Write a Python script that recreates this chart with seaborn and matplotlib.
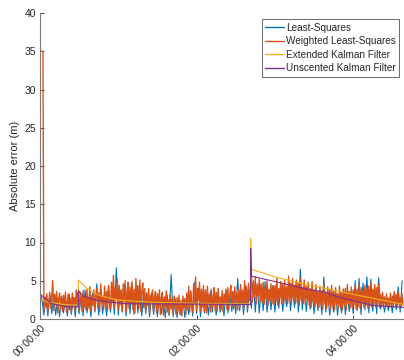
import numpy as np
import pandas as pd
import matplotlib
matplotlib.use("Agg")
import matplotlib.pyplot as plt
import seaborn as sns

# ---------------- data ----------------
ls_dt_hours = 0.025
ls_err = [
    3.5, 2.5, 0.5, 2.9, 0.4, 3.1, 0.7, 3.3, 0.5, 2.7,
    0.3, 3.0, 0.8, 2.5, 0.4, 3.2, 0.6, 2.8, 0.3, 3.5,
    0.7, 3.0, 0.4, 3.8, 0.8, 2.7, 0.3, 3.4, 0.9, 4.6,
    0.5, 4.0, 0.7, 3.3, 0.4, 4.3, 0.9, 3.8, 0.6, 6.7,
    0.5, 3.7, 0.9, 4.5, 0.4, 3.5, 0.7, 4.6, 0.6, 4.0,
    0.8, 4.3, 0.4, 3.6, 0.7, 3.1, 0.3, 3.4, 0.6, 2.8,
    0.3, 3.2, 0.7, 2.6, 0.2, 3.1, 0.5, 5.8, 0.3, 2.7,
    0.2, 2.4, 0.5, 2.6, 0.2, 2.3, 0.6, 3.7, 0.4, 4.8,
    0.7, 4.0, 0.3, 3.4, 0.8, 3.1, 0.5, 3.6, 0.9, 2.9,
    0.5, 3.3, 0.9, 2.8, 0.4, 3.8, 0.8, 3.1, 1.0, 3.5,
    0.7, 5.3, 1.1, 3.4, 0.6, 4.4, 0.9, 3.7, 1.4, 5.0,
    0.9, 4.6, 0.8, 4.2, 1.1, 4.9, 0.9, 3.8, 1.2, 4.4,
    0.9, 4.0, 1.4, 4.7, 1.0, 3.6, 1.6, 5.0, 1.1, 4.2,
    1.5, 5.1, 0.9, 6.5, 1.2, 4.8, 1.0, 3.7, 1.3, 4.3,
    0.7, 3.8, 1.1, 3.2, 0.6, 5.5, 0.9, 3.4, 0.5, 3.0,
    0.9, 3.6, 0.5, 3.1, 0.8, 3.9, 0.6, 3.3, 1.0, 3.5,
    0.7, 5.0, 1.1, 5.3, 0.6, 4.7, 1.2, 5.5, 0.8, 5.2,
    1.0, 4.0, 0.7, 5.4, 1.3, 2.6, 0.9, 2.3, 1.1, 2.7,
    0.8, 3.4, 1.2, 4.2, 0.9, 5.0,
]
wls_dt_hours = 0.0125
wls_err = [
    35, 35, 35, 35, 1.2, 2.8, 1.6, 3.3, 0.9, 2.4, 3.5, 1.4,
    2.9, 5.0, 1.1, 3.2, 2.0, 3.6, 0.8, 2.6, 3.4, 1.3, 2.9, 1.0,
    3.1, 1.6, 3.5, 0.9, 2.3, 3.3, 1.2, 2.7, 0.8, 3.4, 1.9, 2.8,
    1.0, 3.8, 1.7, 2.9, 1.1, 3.5, 2.2, 1.0, 3.7, 1.5, 3.0, 1.2,
    3.9, 1.4, 2.6, 4.2, 1.0, 3.1, 1.8, 3.8, 1.1, 2.7, 4.0, 1.5,
    3.4, 1.0, 4.6, 2.1, 3.0, 1.2, 4.3, 1.6, 3.6, 1.1, 4.4, 2.0,
    1.3, 4.8, 2.2, 5.7, 1.5, 4.1, 2.6, 5.2, 1.2, 4.4, 1.9, 3.8,
    1.0, 4.6, 2.3, 5.0, 0.9, 3.7, 4.8, 1.4, 4.2, 2.0, 4.9, 1.2,
    3.9, 0.8, 5.3, 2.1, 4.4, 1.3, 5.1, 1.0, 3.6, 4.7, 1.5, 4.0,
    0.9, 3.4, 1.8, 4.0, 0.7, 3.1, 2.2, 3.8, 1.0, 2.9, 3.6, 0.8,
    3.3, 1.4, 3.8, 0.6, 2.7, 3.5, 0.5, 2.9, 1.6, 3.7, 0.9, 2.5,
    0.5, 3.2, 1.3, 2.6, 0.7, 3.0, 1.9, 0.6, 2.8, 1.1, 3.1, 0.6,
    2.4, 0.4, 3.0, 1.5, 2.7, 0.6, 3.4, 1.2, 4.3, 0.9, 3.6, 1.7,
    0.8, 4.6, 2.0, 5.5, 1.1, 4.0, 2.5, 4.8, 0.9, 3.9, 1.6, 4.4,
    1.0, 3.8, 0.8, 4.3, 2.0, 3.2, 0.9, 3.9, 1.5, 2.9, 4.1, 1.1,
    3.5, 1.0, 4.0, 1.9, 2.9, 1.2, 3.7, 1.0, 3.3, 2.2, 3.9, 1.3,
    4.1, 1.2, 3.3, 4.4, 1.6, 3.6, 1.3, 4.2, 2.3, 3.4, 1.2, 3.9,
    1.5, 4.5, 2.1, 3.8, 1.3, 5.0, 1.9, 4.2, 1.4, 4.7, 2.4, 3.9,
    5.7, 2.2, 4.8, 2.9, 5.5, 2.0, 4.4, 3.0, 5.2, 2.3, 4.6, 2.1,
    4.8, 1.9, 4.2, 2.6, 5.0, 1.8, 3.9, 2.4, 4.6, 2.0, 4.3, 1.9,
    4.4, 2.2, 5.3, 1.8, 4.0, 2.7, 4.9, 2.0, 4.5, 1.9, 5.1, 2.4,
    4.2, 2.0, 5.6, 2.3, 4.7, 2.1, 5.3, 2.6, 4.4, 2.0, 5.0, 2.2,
    4.6, 1.8, 5.4, 2.4, 4.1, 2.0, 5.1, 1.9, 4.3, 2.5, 4.8, 1.8,
    4.0, 1.5, 4.9, 2.2, 3.8, 1.6, 4.5, 2.0, 3.6, 1.5, 4.3, 1.9,
    3.7, 1.3, 4.7, 2.0, 3.5, 1.4, 4.2, 1.8, 3.9, 1.3, 4.4, 1.7,
    3.6, 1.2, 4.1, 1.9, 3.3, 1.4, 4.3, 1.6, 3.5, 1.2, 3.9, 1.8,
    4.0, 1.3, 4.5, 2.0, 3.6, 1.5, 4.2, 1.4, 3.8, 1.9, 4.4, 1.3,
    3.9, 1.6, 4.6, 1.4, 4.1, 2.1, 3.7, 1.5, 4.4, 1.8, 4.0, 1.4,
    4.3, 1.7, 4.7, 1.5, 3.9, 2.0, 4.5, 1.6, 4.1, 1.9, 4.6, 1.5,
    3.2, 1.6, 3.5, 2.0, 2.9, 1.5, 3.3, 1.8, 2.7, 1.6, 3.4, 1.7,
    3.0, 1.5, 3.6, 2.1, 3.2, 1.6, 3.5, 1.9, 2.8, 1.5, 3.3, 1.8,
]
ekf_t = [0.0, 0.1, 0.3, 0.49, 0.49, 0.6, 0.75, 0.98, 1.4, 2.0, 2.69, 2.69,
         2.70, 3.0, 3.45, 4.06, 4.65]
ekf_err = [2.6, 2.2, 1.9, 1.8, 5.1, 4.0, 3.1, 2.5, 2.2, 2.05, 2.0, 10.5,
           6.5, 5.5, 4.4, 3.1, 1.9]
ukf_t = [0.0, 0.05, 0.15, 0.34, 0.49, 0.49, 0.55, 0.7, 0.9, 1.1, 2.69, 2.69,
         2.70, 3.0, 3.45, 3.64, 3.8, 4.24, 4.65]
ukf_err = [3.3, 2.8, 2.0, 1.6, 1.6, 3.7, 3.0, 2.5, 2.2, 2.0, 1.9, 9.2,
           5.6, 4.9, 3.8, 3.5, 2.9, 1.8, 1.5]
series_names = ["Least-Squares", "Weighted Least-Squares",
                "Extended Kalman Filter", "Unscented Kalman Filter"]
xtick_hours = [0, 2, 4]
xtick_labels = ["00:00:00", "02:00:00", "04:00:00"]
ytick_vals = [0, 5, 10, 15, 20, 25, 30, 35, 40]

# ---------------- build frames ----------------
df_ls = pd.DataFrame({"t": np.arange(len(ls_err)) * ls_dt_hours, "err": ls_err})
df_wls = pd.DataFrame({"t": np.arange(len(wls_err)) * wls_dt_hours, "err": wls_err})
df_ekf = pd.DataFrame({"t": ekf_t, "err": ekf_err})
df_ukf = pd.DataFrame({"t": ukf_t, "err": ukf_err})

sns.set_theme(style="ticks")
plt.rcParams["font.family"] = ["Liberation Sans", "DejaVu Sans"]
txt = "#262626"
plt.rcParams.update({
    "text.color": txt, "axes.labelcolor": txt,
    "xtick.color": txt, "ytick.color": txt,
})

colors = ["#0072BD", "#D95319", "#EDB120", "#7E2F8E"]

fig = plt.figure(figsize=(4.04, 3.60), dpi=100)
ax = fig.add_axes([40 / 404, 1 - 319 / 360, 1 - 40 / 404, (319 - 13) / 360])

sns.lineplot(data=df_ls, x="t", y="err", ax=ax, color=colors[0], lw=0.8,
             estimator=None, sort=False, label=series_names[0])
sns.lineplot(data=df_wls, x="t", y="err", ax=ax, color=colors[1], lw=1.0,
             estimator=None, sort=False, label=series_names[1])
sns.lineplot(data=df_ekf, x="t", y="err", ax=ax, color=colors[2], lw=0.8,
             estimator=None, sort=False, label=series_names[2])
sns.lineplot(data=df_ukf, x="t", y="err", ax=ax, color=colors[3], lw=0.8,
             estimator=None, sort=False, label=series_names[3])

ax.set_xlim(0, (404 - 40) / 78.3)
ax.set_ylim(0, 40)
ax.set_yticks(ytick_vals)
ax.set_xticks(xtick_hours)
ax.set_xticklabels(xtick_labels, rotation=45, ha="right",
                   rotation_mode="anchor")
ax.tick_params(axis="both", direction="in", length=3, width=0.6,
               labelsize=7.5, pad=3, colors=txt)
ax.set_xlabel("")
ax.set_ylabel("Absolute error (m)", fontsize=8, labelpad=3)
for s in ["top", "right"]:
    ax.spines[s].set_visible(False)
for s in ["left", "bottom"]:
    ax.spines[s].set_color("#7a7a7a")
    ax.spines[s].set_linewidth(0.8)

leg = ax.legend(loc="upper right", bbox_to_anchor=(0.986, 0.98),
                fontsize=7.2, frameon=True, fancybox=False,
                handlelength=1.9, handletextpad=0.15, borderpad=0.35,
                labelspacing=0.36, borderaxespad=0)
leg.get_frame().set_edgecolor("#262626")
leg.get_frame().set_linewidth(0.6)
for line in leg.get_lines():
    line.set_linewidth(1.0)

fig.savefig("out.png", dpi=100)
